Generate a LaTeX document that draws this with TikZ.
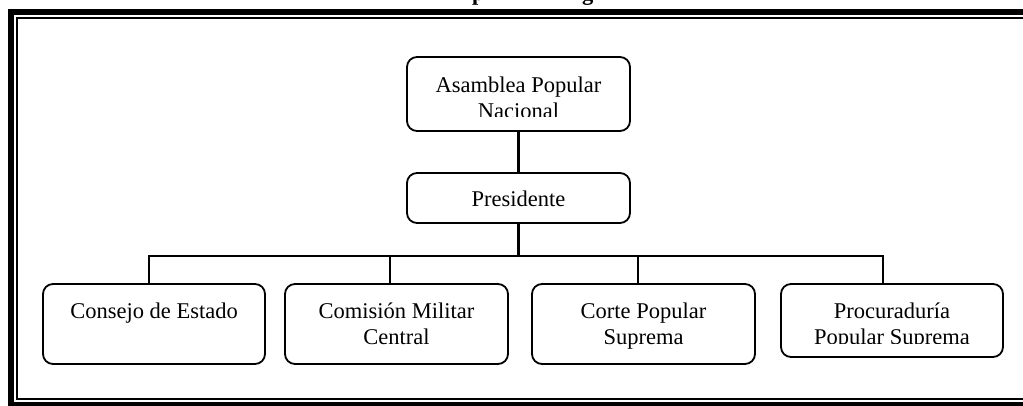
\documentclass[tikz,border=0pt]{standalone}
\usepackage{fontspec}
\setmainfont{Liberation Serif}
\begin{document}
\begin{tikzpicture}[x=1pt,y=-1pt,
  box/.style={draw,line width=1.8pt,rounded corners=10pt,inner sep=0pt},
  lbl/.style={font=\fontsize{22.5}{26}\selectfont,align=center,inner sep=0pt,anchor=base},
  titlefrag/.style={font=\bfseries\fontsize{22.5}{26}\selectfont,anchor=base west,inner sep=0pt},
  link/.style={line width=2.3pt}]
\useasboundingbox (0,0) rectangle (1023,405);

% title line above the frame (only its descenders fall inside the page)
\node[titlefrag] (tp) at (472,0.5) {p};
\node[titlefrag] (tg) at (582,0.5) {g};

% thick-thin page frame
\draw[line width=6pt] (10.5,11.75) rectangle (1040,404.5);
\draw[line width=2pt] (17,17.5) rectangle (1030,399);

% boxes
\node[box,minimum width=223pt,minimum height=74pt] (apn)  at (518.5,94) {};
\node[box,minimum width=223pt,minimum height=50pt] (pres) at (518.5,198) {};
\node[box,minimum width=222pt,minimum height=80pt] (cons) at (154,324) {};
\node[box,minimum width=223pt,minimum height=80pt] (cmc)  at (396.5,324) {};
\node[box,minimum width=223pt,minimum height=80pt] (cps)  at (643.5,324) {};
\node[box,minimum width=222pt,minimum height=73pt] (pps)  at (892,320.5) {};

% labels; the base anchor of a two-line label is its second baseline,
% so those sit one line (26pt) lower; text areas are clipped above the lower border
\begin{scope}
  \clip (apn.north west) rectangle ([yshift=15pt]apn.south east);
  \node[lbl] (apnt) at ([yshift=-62pt]apn.north) {Asamblea Popular\\Nacional};
\end{scope}
\node[lbl] (prest) at ([yshift=-34pt]pres.north) {Presidente};
\node[lbl] (const) at ([yshift=-35pt]cons.north) {Consejo de Estado};
\node[lbl] (cmct)  at ([yshift=-61pt]cmc.north) {Comisión Militar\\Central};
\node[lbl] (cpst)  at ([yshift=-61pt]cps.north) {Corte Popular\\Suprema};
\begin{scope}
  \clip (pps.north west) rectangle ([yshift=14pt]pps.south east);
  \node[lbl] (ppst) at ([yshift=-61pt]pps.north) {Procuraduría\\Popular Suprema};
\end{scope}

% connectors
\coordinate (bus) at (518.5,256);
\coordinate (d1) at (149,256);
\coordinate (d2) at (390,256);
\coordinate (d3) at (638,256);
\coordinate (d4) at (883,256);

\draw[link] (apn.south) -- (pres.north);
\draw[link] (pres.south) -- (bus);
\draw[link] (d1 |- cons.north) -- (d1) -- (d4) -- (d4 |- pps.north);
\draw[link] (d2) -- (d2 |- cmc.north);
\draw[link] (d3) -- (d3 |- cps.north);
\end{tikzpicture}
\end{document}
